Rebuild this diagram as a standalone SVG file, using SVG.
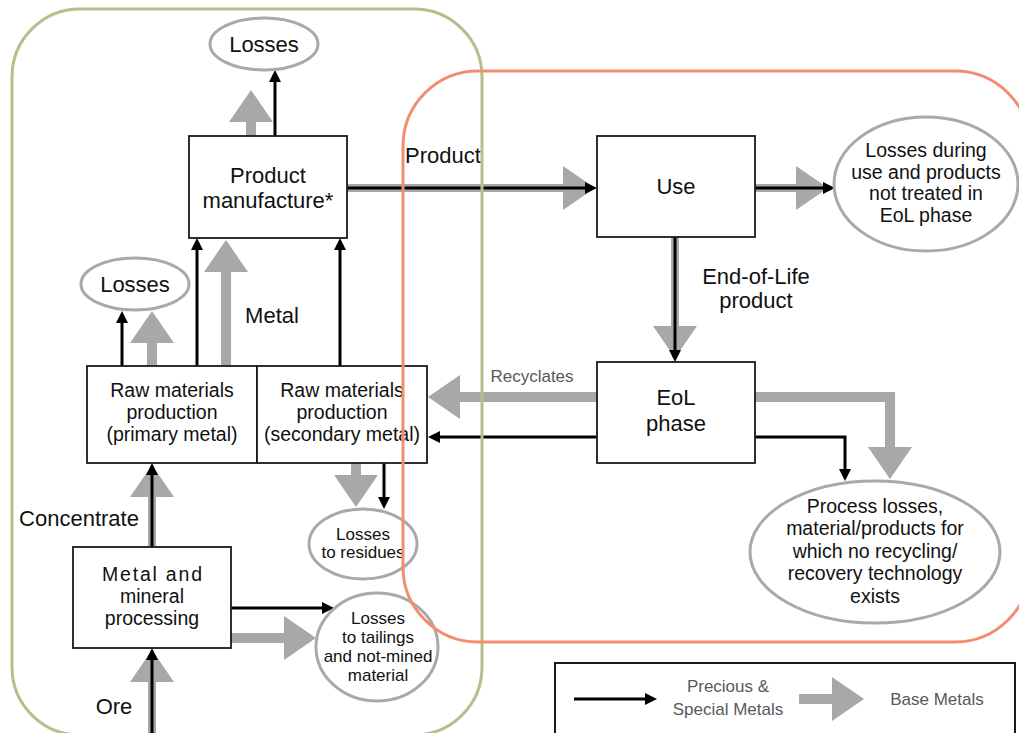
<svg xmlns="http://www.w3.org/2000/svg" width="1019" height="733" viewBox="0 0 1019 733">
  <defs>
    <!-- small black head for precious & special metals flows -->
    <marker id="headBlack" markerUnits="userSpaceOnUse" viewBox="0 0 12 12" markerWidth="12" markerHeight="12" refX="4" refY="6" orient="auto">
      <path d="M0,0 L12,6 L0,12 z" fill="#000"/>
    </marker>
    <!-- wide grey head for base metals flows -->
    <marker id="headGrey" markerUnits="userSpaceOnUse" viewBox="0 0 32 44" markerWidth="32" markerHeight="44" refX="4" refY="22" orient="auto">
      <path d="M0,0 L32,22 L0,44 z" fill="#a7a8aa"/>
    </marker>
    <style>
      .box { fill: #fff; stroke: #1a1a1a; stroke-width: 1.8; }
      .loss { fill: #fff; stroke: #a9a9a9; stroke-width: 3; }
      .frame { fill: none; stroke-width: 3; }
      .grey { fill: none; stroke: #a7a8aa; stroke-width: 10; stroke-linejoin: miter; marker-end: url(#headGrey); }
      .under { stroke-width: 8; }
      .black { fill: none; stroke: #000; stroke-width: 3; stroke-linejoin: miter; marker-end: url(#headBlack); }
      text { font-family: "Liberation Sans", Arial, sans-serif; fill: #111; text-anchor: middle; }
      .lg { font-size: 22px; }
      .md { font-size: 19.5px; }
      .sm { font-size: 17px; }
      .soft { font-size: 17px; fill: #58595b; }
    </style>
  </defs>

  <!-- flows -->
  <g id="connectors">
    <!-- manufacture to losses -->
    <line class="grey" x1="251" y1="136" x2="251" y2="118"/>
    <line class="black" x1="275" y1="136" x2="275" y2="78"/>
    <!-- primary production to losses -->
    <line class="black" x1="122" y1="366" x2="122" y2="319"/>
    <line class="grey" x1="152" y1="366" x2="152" y2="339"/>
    <!-- metal to manufacture -->
    <line class="black" x1="197" y1="366" x2="197" y2="246"/>
    <line class="grey" x1="226" y1="366" x2="226" y2="268"/>
    <line class="black" x1="340" y1="366" x2="340" y2="246"/>
    <!-- product to use -->
    <line class="grey under" x1="347" y1="188" x2="567" y2="188"/>
    <line class="black" x1="347" y1="188" x2="589" y2="188"/>
    <!-- use to losses -->
    <line class="grey under" x1="755" y1="188" x2="800" y2="188"/>
    <line class="black" x1="755" y1="188" x2="827" y2="188"/>
    <!-- end-of-life product -->
    <line class="grey under" x1="675" y1="237" x2="675" y2="330"/>
    <line class="black" x1="675" y1="237" x2="675" y2="354"/>
    <!-- recyclates back to secondary production -->
    <line class="grey" x1="597" y1="397" x2="456" y2="397"/>
    <line class="black" x1="597" y1="437" x2="436" y2="437"/>
    <!-- EoL to process losses -->
    <path class="grey" d="M755,397 H890 V451"/>
    <path class="black" d="M755,437 H845 V473"/>
    <!-- secondary production to residues -->
    <line class="grey" x1="356" y1="463" x2="356" y2="479"/>
    <line class="black" x1="384" y1="463" x2="384" y2="501"/>
    <!-- concentrate -->
    <line class="grey under" x1="152" y1="547" x2="152" y2="493"/>
    <line class="black" x1="152" y1="547" x2="152" y2="471"/>
    <!-- ore -->
    <line class="grey under" x1="152" y1="735" x2="152" y2="678"/>
    <line class="black" x1="152" y1="735" x2="152" y2="656"/>
    <!-- processing to tailings -->
    <line class="black" x1="231" y1="608" x2="326" y2="608"/>
    <line class="grey" x1="231" y1="638" x2="288" y2="638"/>
  </g>

  <!-- flow labels -->
  <g id="labels">
    <text class="lg" x="272" y="323">Metal</text>
    <text class="lg" x="443" y="163">Product</text>
    <text class="lg" x="756" y="284">End-of-Life</text>
    <text class="lg" x="756" y="308">product</text>
    <text class="soft" x="532" y="382">Recyclates</text>
    <text class="lg" x="79" y="526">Concentrate</text>
    <text class="lg" x="114" y="714">Ore</text>
  </g>

  <g id="losses-top">
    <ellipse class="loss" cx="264" cy="44" rx="54" ry="26"/>
    <text class="lg" x="264" y="52">Losses</text>
  </g>

  <g id="manufacture">
    <rect class="box" x="189" y="136" width="158" height="102"/>
    <text class="lg" x="268" y="183">Product</text>
    <text class="lg" x="268" y="208">manufacture*</text>
  </g>

  <g id="losses-primary">
    <ellipse class="loss" cx="135" cy="284" rx="54" ry="26"/>
    <text class="lg" x="135" y="292">Losses</text>
  </g>

  <g id="primary">
    <rect class="box" x="87" y="366" width="170" height="97"/>
    <text class="md" x="172" y="397">Raw materials</text>
    <text class="md" x="172" y="419">production</text>
    <text class="md" x="172" y="441">(primary metal)</text>
  </g>

  <g id="secondary">
    <rect class="box" x="257" y="366" width="170" height="97"/>
    <text class="md" x="342" y="397">Raw materials</text>
    <text class="md" x="342" y="419">production</text>
    <text class="md" x="342" y="441">(secondary metal)</text>
  </g>

  <g id="processing">
    <rect class="box" x="73" y="547" width="158" height="101"/>
    <text class="md" x="152" y="581" textLength="100" lengthAdjust="spacing">Metal  and</text>
    <text class="md" x="152" y="603">mineral</text>
    <text class="md" x="152" y="625">processing</text>
  </g>

  <g id="losses-residues">
    <ellipse class="loss" cx="363" cy="544" rx="54" ry="35"/>
    <text class="sm" x="363" y="540">Losses</text>
    <text class="sm" x="363" y="558">to residues</text>
  </g>

  <g id="losses-tailings">
    <ellipse class="loss" cx="377" cy="647" rx="61" ry="54"/>
    <text class="sm" x="378" y="624">Losses</text>
    <text class="sm" x="378" y="643">to tailings</text>
    <text class="sm" x="378" y="662">and not-mined</text>
    <text class="sm" x="378" y="681">material</text>
  </g>

  <g id="use">
    <rect class="box" x="597" y="136" width="158" height="101"/>
    <text class="lg" x="676" y="194">Use</text>
  </g>

  <g id="losses-use">
    <ellipse class="loss" cx="926" cy="184" rx="92" ry="67"/>
    <text class="md" x="926" y="157">Losses during</text>
    <text class="md" x="926" y="179">use and products</text>
    <text class="md" x="926" y="200">not treated in</text>
    <text class="md" x="926" y="222">EoL phase</text>
  </g>

  <g id="eol">
    <rect class="box" x="597" y="362" width="158" height="101"/>
    <text class="lg" x="676" y="405">EoL</text>
    <text class="lg" x="676" y="431">phase</text>
  </g>

  <g id="losses-process">
    <ellipse class="loss" cx="875" cy="552" rx="125" ry="71"/>
    <text class="md" x="875" y="513">Process losses,</text>
    <text class="md" x="875" y="535">material/products for</text>
    <text class="md" x="875" y="558">which no recycling/</text>
    <text class="md" x="875" y="580">recovery technology</text>
    <text class="md" x="875" y="603">exists</text>
  </g>

  <g id="legend">
    <rect x="555" y="663" width="460" height="80" fill="#fff" stroke="#1a1a1a" stroke-width="2"/>
    <line class="black" x1="574" y1="699" x2="649" y2="699"/>
    <text class="soft" x="728" y="692">Precious &amp;</text>
    <text class="soft" x="728" y="715">Special Metals</text>
    <line class="grey" x1="799" y1="699" x2="836" y2="699"/>
    <text class="soft" x="937" y="705">Base Metals</text>
  </g>

  <!-- phase frames, drawn over the flow chart -->
  <g id="frames">
    <rect class="frame" x="12" y="9" width="470" height="726" rx="68" ry="68" stroke="#b6bf8b"/>
    <rect class="frame" x="403" y="71" width="627" height="571" rx="75" ry="75" stroke="#f38d70"/>
  </g>
</svg>
